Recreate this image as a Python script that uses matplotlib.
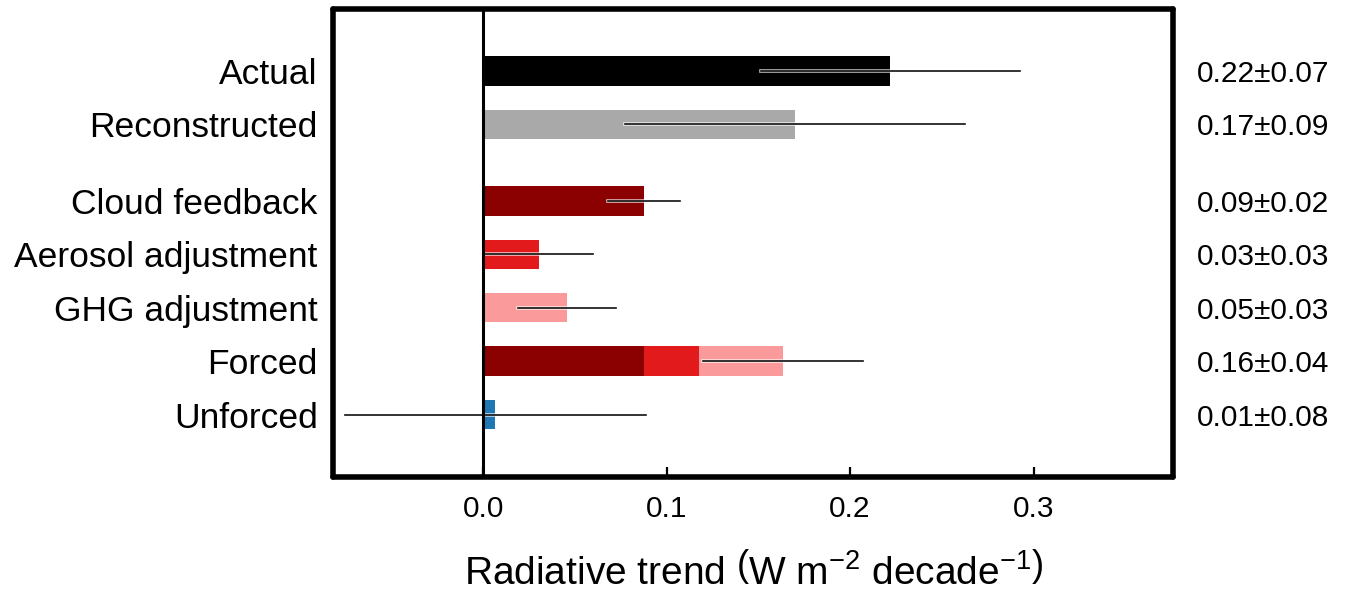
import matplotlib

matplotlib.use("Agg")
import matplotlib.pyplot as plt
import matplotlib.patheffects as pe
from matplotlib.transforms import blended_transform_factory

plt.rcParams["font.family"] = ["Liberation Sans", "DejaVu Sans"]
plt.rcParams["mathtext.fontset"] = "custom"
plt.rcParams["mathtext.rm"] = "Liberation Sans"
plt.rcParams["mathtext.it"] = "Liberation Sans:italic"

# rows, top to bottom
labels = ["Actual", "Reconstructed", "Cloud feedback", "Aerosol adjustment",
          "GHG adjustment", "Forced", "Unforced"]
values = [0.222, 0.170, 0.0875, 0.0303, 0.0456, 0.1634, 0.0065]
errors = [0.0708, 0.0925, 0.0197, 0.0294, 0.0266, 0.0436, 0.082]
value_text = ["0.22±0.07", "0.17±0.09", "0.09±0.02", "0.03±0.03",
              "0.05±0.03", "0.16±0.04", "0.01±0.08"]

# components stacked into the "Forced" bar
forced_parts = [0.0875, 0.0303, 0.0456]
part_colors = ["#8b0000", "#e31a1c", "#fb9a9a"]
bar_colors = ["#000000", "#a9a9a9", "#8b0000", "#e31a1c", "#fb9a9a", None, "#1f77b4"]

# y positions: one unit per row, extra gap after "Reconstructed"
ypos = []
y = 0.0
for i in range(len(labels) - 1, -1, -1):
    ypos.insert(0, y)
    y += 1.0
    if i == 2:
        y += 0.43

fig = plt.figure(figsize=(13.48, 5.92), dpi=100)
ax = fig.add_axes([0.2470, 0.1951, 0.6235, 0.7897])

h = 0.55
for lab, v, c, yy in zip(labels, values, bar_colors, ypos):
    if lab == "Forced":
        left = 0.0
        for pv, pc in zip(forced_parts, part_colors):
            ax.barh(yy, pv, left=left, height=h, color=pc, zorder=2)
            left += pv
    else:
        ax.barh(yy, v, height=h, color=c, zorder=2)

halo = [pe.Stroke(linewidth=2.6, foreground="white", alpha=0.75), pe.Normal()]
for v, e, yy in zip(values, errors, ypos):
    ax.plot([v - e, v + e], [yy, yy], color="#111111", lw=1.2, zorder=3,
            path_effects=halo)

ax.axvline(0, color="black", lw=2.2, zorder=4)

trans = blended_transform_factory(ax.transAxes, ax.transData)
for t, yy in zip(value_text, ypos):
    ax.text(1.028, yy, t, transform=trans, ha="left", va="center_baseline",
            fontsize=21.5)

ax.set_xlim(-0.082, 0.3763)
ax.set_ylim(-1.16, 7.59)
ax.set_yticks(ypos, labels, fontsize=25.5)
ax.tick_params(axis="y", length=0, pad=11)
ax.set_xticks([0.0, 0.1, 0.2, 0.3], ["0.0", "0.1", "0.2", "0.3"], fontsize=21.5)
ax.tick_params(axis="x", direction="in", length=7, width=1.6, pad=13)
for s in ax.spines.values():
    s.set_linewidth(4.0)
    s.set_capstyle("round")
    s.set_joinstyle("round")
    s.set_zorder(5)

ax.set_xlabel(r"Radiative trend $\left(\mathrm{W\ m^{-2}\ decade^{-1}}\right)$",
              fontsize=28, labelpad=22)

fig.savefig("out.png", dpi=100)
